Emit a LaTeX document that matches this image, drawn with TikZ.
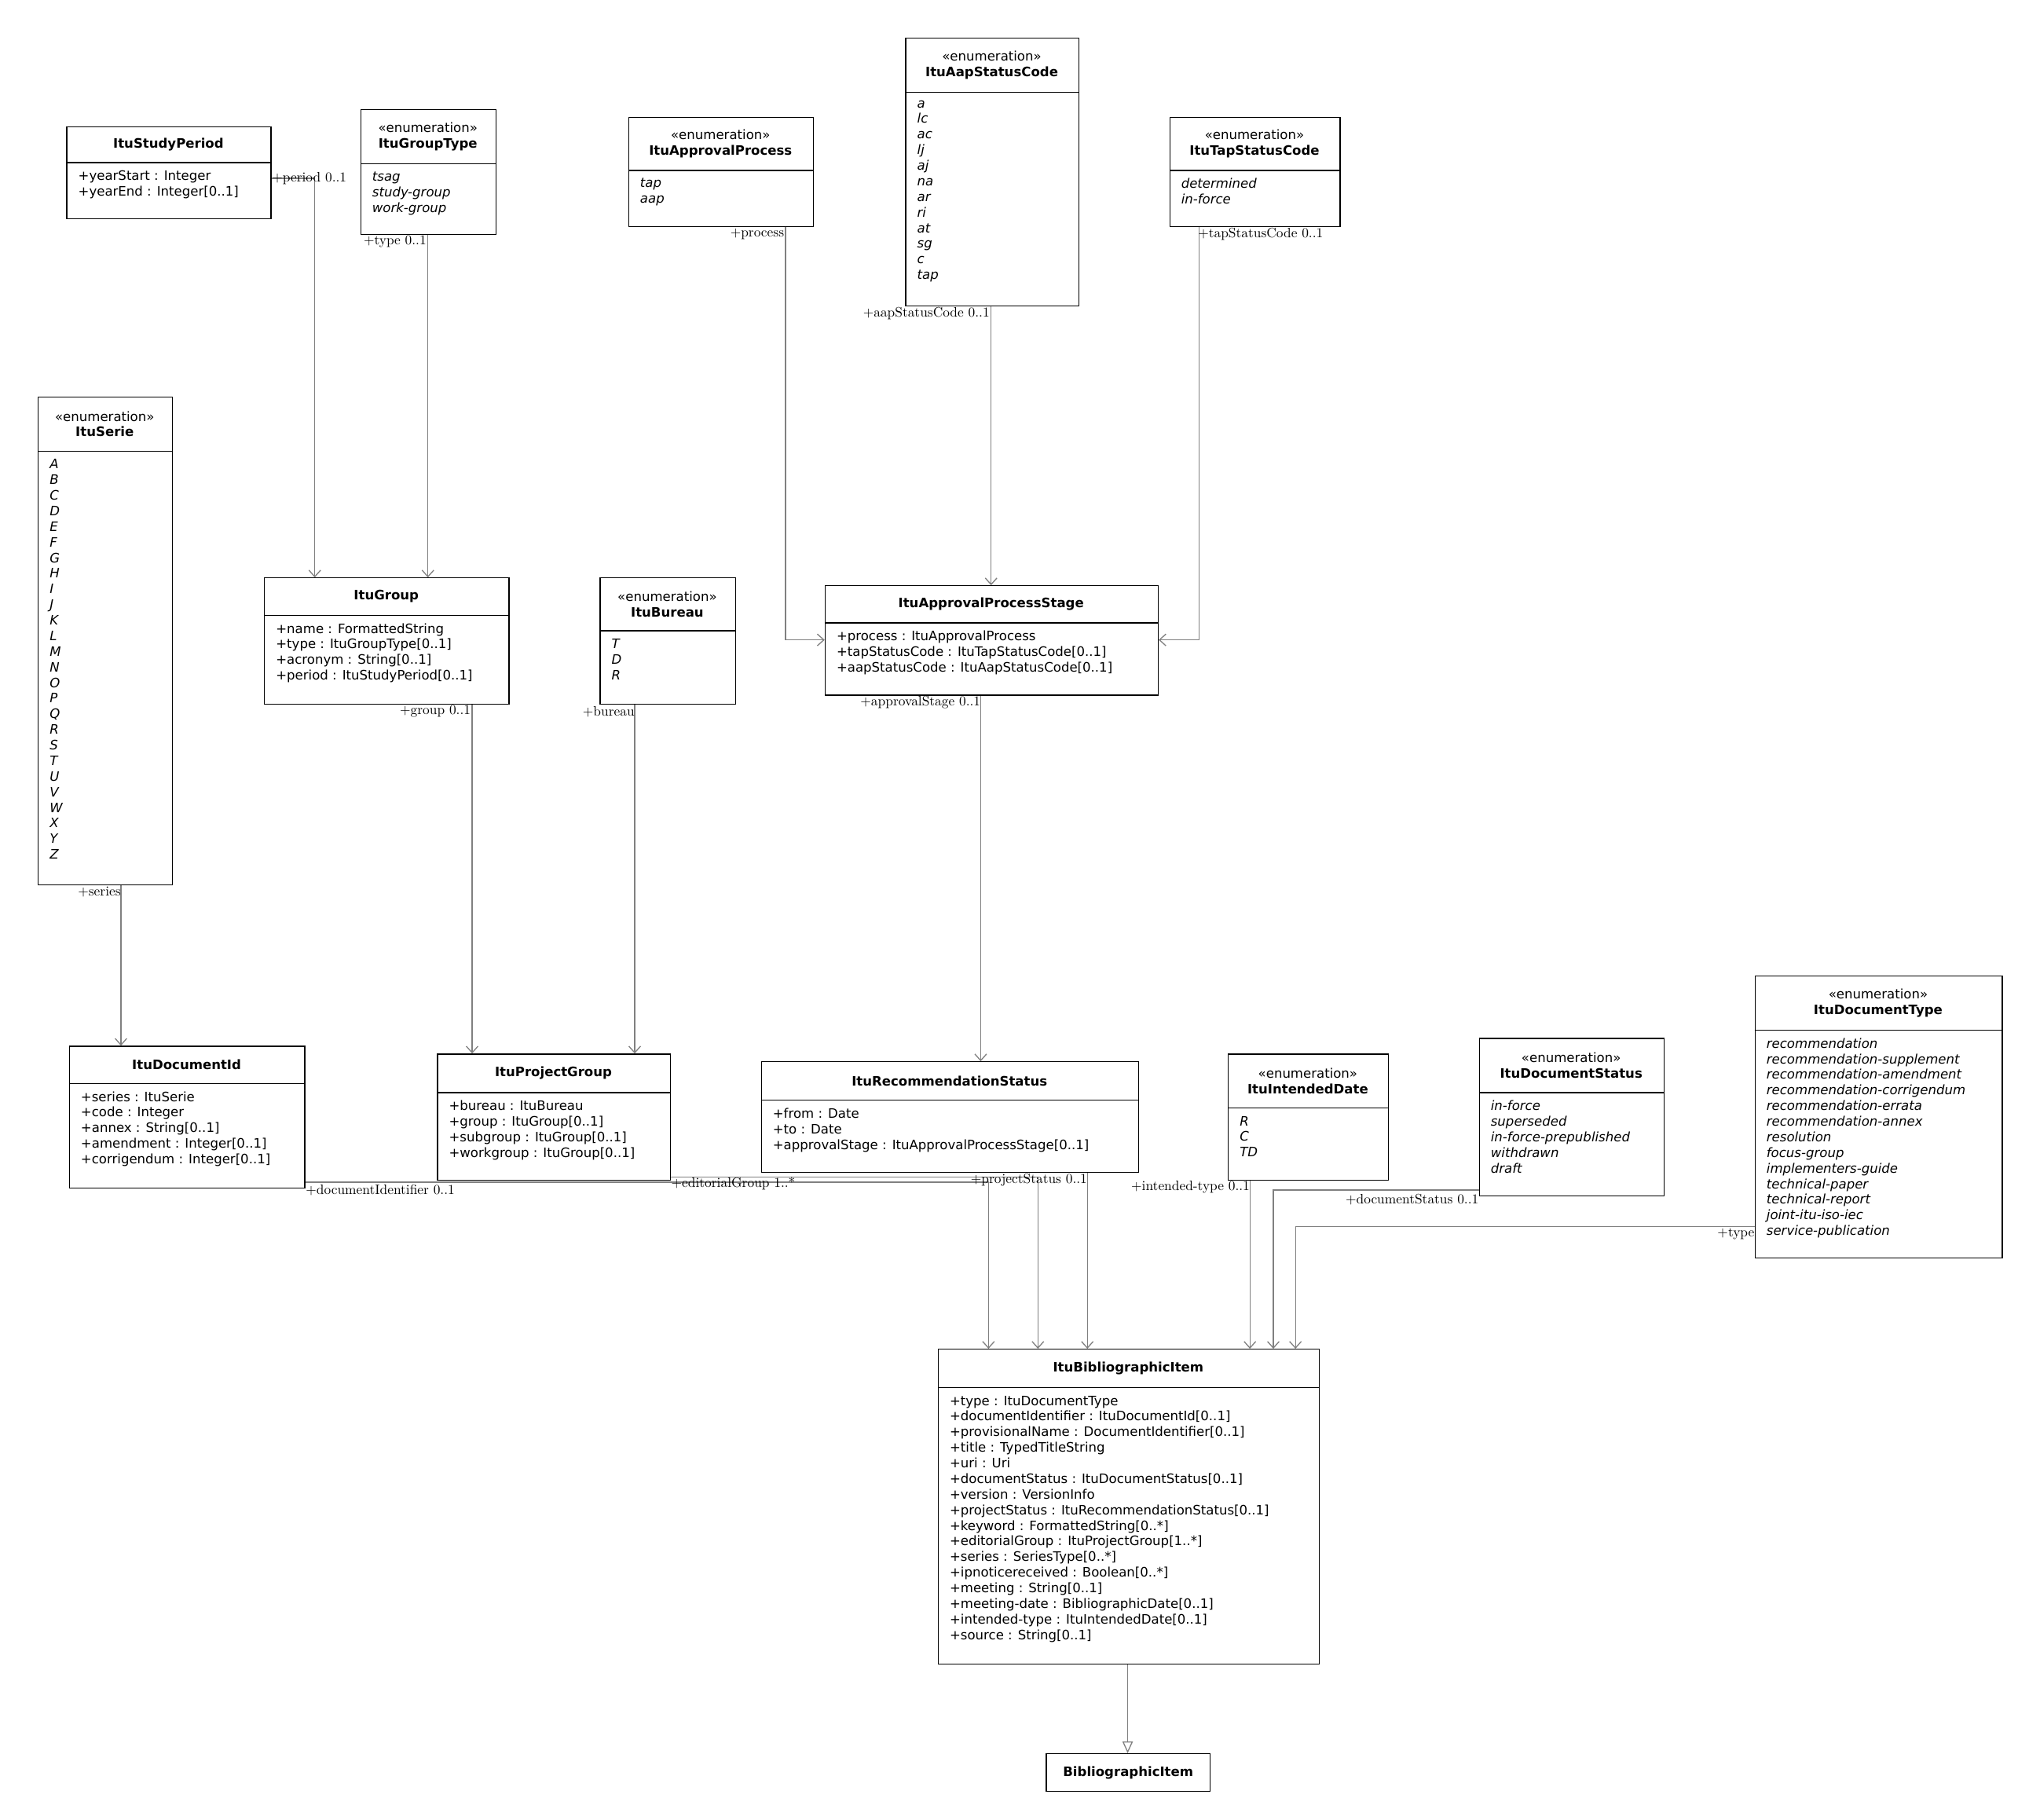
\documentclass[tikz,border=0pt]{standalone}
\usepackage{fontspec}
\setsansfont{DejaVu Sans}
\usetikzlibrary{arrows.meta}
\newcommand\umlbox[8]{%
  \node[draw,line width=0.8pt,anchor=north west,inner sep=0,minimum width={(#4-#2)*1pt},minimum height={(#5-#3)*1pt}] (#1) at (#2,#3) {};
  \draw[line width=0.8pt] (#2,#6) -- (#4,#6);
  \node[hdr] at ({(#2+#4)/2},{(#3+#6)/2}) {#7};
  \node[bdy] at ({#2+9},{#6+6}) {#8};}
\begin{document}
\begin{tikzpicture}[x=1pt,y=-1pt,
  hdr/.style={align=center,inner sep=0,font=\sffamily\fontsize{10}{12}\selectfont},
  bdy/.style={anchor=north west,align=left,inner sep=0,font=\sffamily\fontsize{10}{12}\selectfont},
  assoc/.style={draw=gray,line width=0.8pt,-{Straight Barb[length=5pt,width=9pt]}},
  gen/.style={draw=gray,line width=0.8pt,-{Triangle[open,length=9pt,width=8pt,fill=white]}},
  lbl/.style={inner sep=1pt,font=\fontsize{10.5}{12}\selectfont}]
\useasboundingbox (0,0) rectangle (1560,1399);
\umlbox{sp}{51}{97}{208}{168}{125}{\textbf{ItuStudyPeriod}}{+yearStart : Integer\\+yearEnd : Integer[0..1]}
\umlbox{gt}{277}{84}{381}{180}{126}{«enumeration»\\\textbf{ItuGroupType}}{\itshape tsag\\\itshape study-group\\\itshape work-group}
\umlbox{ap}{483}{90}{625}{174}{131}{«enumeration»\\\textbf{ItuApprovalProcess}}{\itshape tap\\\itshape aap}
\umlbox{aap}{696}{29}{829}{235}{71}{«enumeration»\\\textbf{ItuAapStatusCode}}{\itshape a\\\itshape lc\\\itshape ac\\\itshape lj\\\itshape aj\\\itshape na\\\itshape ar\\\itshape ri\\\itshape at\\\itshape sg\\\itshape c\\\itshape tap}
\umlbox{tap}{899}{90}{1030}{174}{131}{«enumeration»\\\textbf{ItuTapStatusCode}}{\itshape determined\\\itshape in-force}
\umlbox{ser}{29}{305}{132}{680}{347}{«enumeration»\\\textbf{ItuSerie}}{\itshape A\\\itshape B\\\itshape C\\\itshape D\\\itshape E\\\itshape F\\\itshape G\\\itshape H\\\itshape I\\\itshape J\\\itshape K\\\itshape L\\\itshape M\\\itshape N\\\itshape O\\\itshape P\\\itshape Q\\\itshape R\\\itshape S\\\itshape T\\\itshape U\\\itshape V\\\itshape W\\\itshape X\\\itshape Y\\\itshape Z}
\umlbox{grp}{203}{444}{391}{541}{473}{\textbf{ItuGroup}}{+name : FormattedString\\+type : ItuGroupType[0..1]\\+acronym : String[0..1]\\+period : ItuStudyPeriod[0..1]}
\umlbox{bur}{461}{444}{565}{541}{485}{«enumeration»\\\textbf{ItuBureau}}{\itshape T\\\itshape D\\\itshape R}
\umlbox{aps}{634}{450}{890}{534}{479}{\textbf{ItuApprovalProcessStage}}{+process : ItuApprovalProcess\\+tapStatusCode : ItuTapStatusCode[0..1]\\+aapStatusCode : ItuAapStatusCode[0..1]}
\umlbox{did}{53}{804}{234}{913}{833}{\textbf{ItuDocumentId}}{+series : ItuSerie\\+code : Integer\\+annex : String[0..1]\\+amendment : Integer[0..1]\\+corrigendum : Integer[0..1]}
\umlbox{pg}{336}{810}{515}{907}{840}{\textbf{ItuProjectGroup}}{+bureau : ItuBureau\\+group : ItuGroup[0..1]\\+subgroup : ItuGroup[0..1]\\+workgroup : ItuGroup[0..1]}
\umlbox{rs}{585}{816}{875}{901}{846}{\textbf{ItuRecommendationStatus}}{+from : Date\\+to : Date\\+approvalStage : ItuApprovalProcessStage[0..1]}
\umlbox{idt}{944}{810}{1067}{907}{852}{«enumeration»\\\textbf{ItuIntendedDate}}{\itshape R\\\itshape C\\\itshape TD}
\umlbox{ds}{1137}{798}{1279}{919}{840}{«enumeration»\\\textbf{ItuDocumentStatus}}{\itshape in-force\\\itshape superseded\\\itshape in-force-prepublished\\\itshape withdrawn\\\itshape draft}
\umlbox{dt}{1349}{750}{1539}{967}{792}{«enumeration»\\\textbf{ItuDocumentType}}{\itshape recommendation\\\itshape recommendation-supplement\\\itshape recommendation-amendment\\\itshape recommendation-corrigendum\\\itshape recommendation-errata\\\itshape recommendation-annex\\\itshape resolution\\\itshape focus-group\\\itshape implementers-guide\\\itshape technical-paper\\\itshape technical-report\\\itshape joint-itu-iso-iec\\\itshape service-publication}
\umlbox{bi}{721}{1037}{1014}{1279}{1067}{\textbf{ItuBibliographicItem}}{+type : ItuDocumentType\\+documentIdentifier : ItuDocumentId[0..1]\\+provisionalName : DocumentIdentifier[0..1]\\+title : TypedTitleString\\+uri : Uri\\+documentStatus : ItuDocumentStatus[0..1]\\+version : VersionInfo\\+projectStatus : ItuRecommendationStatus[0..1]\\+keyword : FormattedString[0..*]\\+editorialGroup : ItuProjectGroup[1..*]\\+series : SeriesType[0..*]\\+ipnoticereceived : Boolean[0..*]\\+meeting : String[0..1]\\+meeting-date : BibliographicDate[0..1]\\+intended-type : ItuIntendedDate[0..1]\\+source : String[0..1]}
\node[draw,line width=0.8pt,anchor=north west,inner sep=0,minimum width=126pt,minimum height=29pt,font=\sffamily\bfseries\fontsize{10}{12}\selectfont] (b) at (804,1348) {BibliographicItem};
% connectors
\draw[assoc] (sp.east |- 0,137) -| (grp.north -| 242,0);
\node[lbl,anchor=west] at (208,137) {+period 0..1};
\draw[assoc] (gt.south -| 329,0) -- (grp.north -| 329,0);
\node[lbl,anchor=east] at (329,186) {+type 0..1};
\draw[assoc] (ap.south -| 604,0) |- (aps.west |- 0,492);
\node[lbl,anchor=east] at (604,180) {+process};
\draw[assoc] (aap.south -| 762,0) -- (aps.north -| 762,0);
\node[lbl,anchor=east] at (762,241) {+aapStatusCode 0..1};
\draw[assoc] (tap.south -| 922,0) |- (aps.east |- 0,492);
\node[lbl,anchor=west] at (920,180) {+tapStatusCode 0..1};
\draw[assoc] (ser.south -| 93,0) -- (did.north -| 93,0);
\node[lbl,anchor=east] at (94,686) {+series};
\draw[assoc] (grp.south -| 363,0) -- (pg.north -| 363,0);
\node[lbl,anchor=east] at (363,547) {+group 0..1};
\draw[assoc] (bur.south -| 488,0) -- (pg.north -| 488,0);
\node[lbl,anchor=east] at (489,547) {+bureau};
\draw[assoc] (aps.south -| 754,0) -- (rs.north -| 754,0);
\node[lbl,anchor=east] at (755,540) {+approvalStage 0..1};
\draw[assoc] (did.east |- 0,909) -| (bi.north -| 760,0);
\node[lbl,anchor=west] at (234,915) {+documentIdentifier 0..1};
\draw[assoc] (pg.east |- 0,905) -| (bi.north -| 798,0);
\node[lbl,anchor=west] at (515,910) {+editorialGroup 1..*};
\draw[assoc] (rs.south -| 836,0) -- (bi.north -| 836,0);
\node[lbl,anchor=east] at (837,907) {+projectStatus 0..1};
\draw[assoc] (idt.south -| 961,0) -- (bi.north -| 961,0);
\node[lbl,anchor=east] at (962,913) {+intended-type 0..1};
\draw[assoc] (ds.west |- 0,915) -| (bi.north -| 979,0);
\node[lbl,anchor=east] at (1138,922) {+documentStatus 0..1};
\draw[assoc] (dt.west |- 0,943) -| (bi.north -| 996,0);
\node[lbl,anchor=east] at (1350,949) {+type};
\draw[gen] (bi.south -| 867,0) -- (b.north -| 867,0);
\end{tikzpicture}
\end{document}
